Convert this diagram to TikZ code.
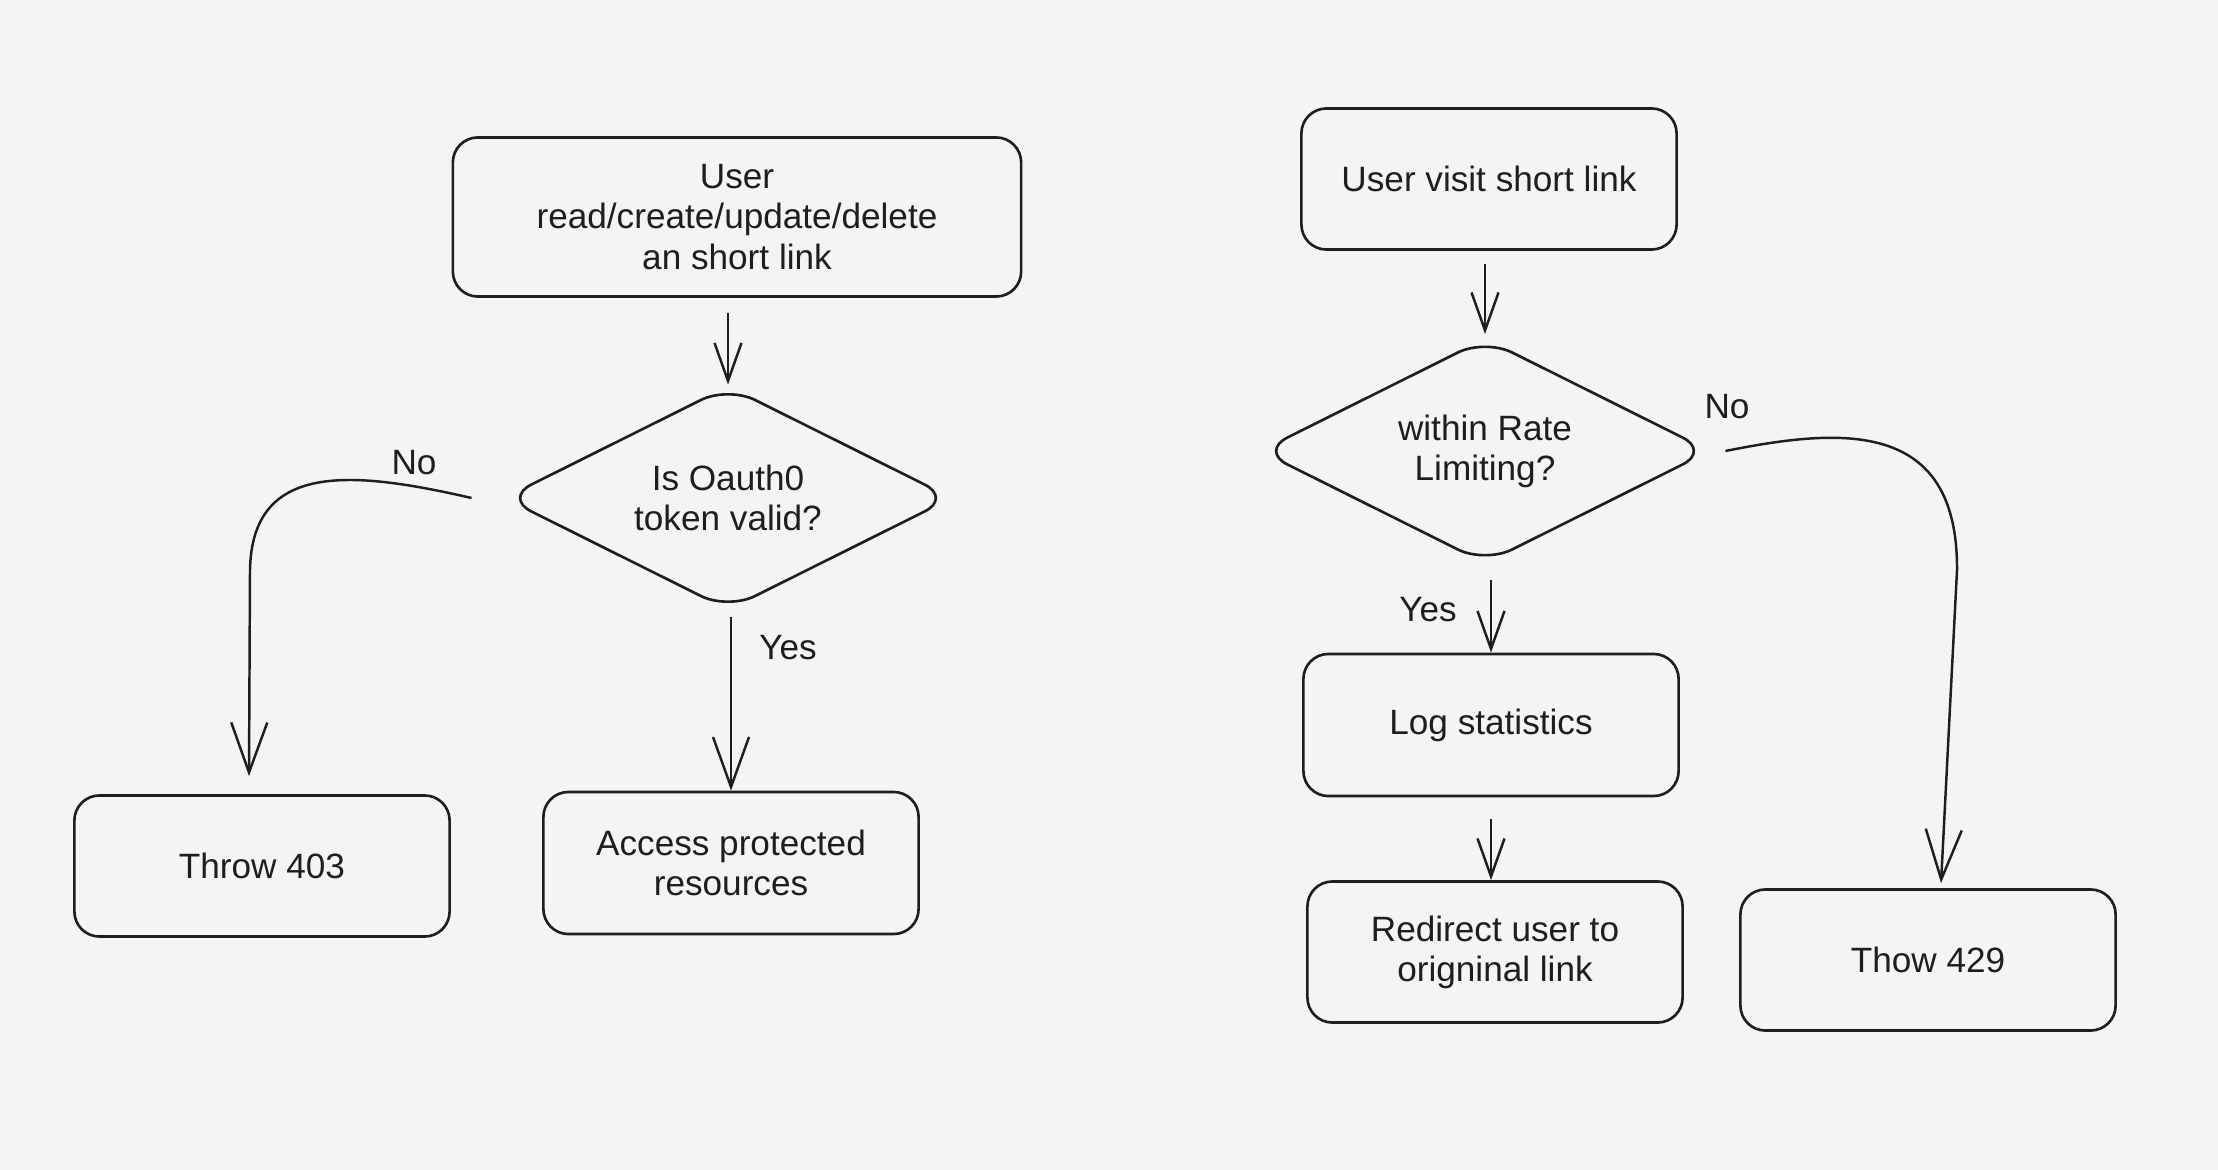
\documentclass[tikz,border=0pt]{standalone}
\usepackage{fontspec}
\setmainfont{Liberation Sans}
\usetikzlibrary{arrows.meta,shapes.geometric}
\definecolor{bg}{RGB}{243,244,246}
\definecolor{ink}{RGB}{30,30,30}
\begin{document}
\begin{tikzpicture}[x=0.01cm,y=-0.01cm,
  every node/.style={font=\fontsize{10pt}{11.4pt}\selectfont, text=ink},
  box/.style={draw=ink, line width=0.75pt, rounded corners=0.25cm, align=center, inner sep=0pt, minimum width=3.75cm, minimum height=1.41cm},
  dia/.style={draw=ink, line width=0.75pt, diamond, shape aspect=2, rounded corners=0.3cm, align=center, inner sep=0pt},
  conn/.style={draw=ink, line width=0.7pt},
  bigtip/.style={-{Straight Barb[length=5mm,width=3.6mm]}},
  smalltip/.style={-{Straight Barb[length=3.8mm,width=2.7mm]}}]
\fill[bg] (0,0) rectangle (2218,1170);
\useasboundingbox (0,0) rectangle (2218,1170);

% left flow
\node[box, minimum width=5.68cm, minimum height=1.59cm] (b1) at (737,217) {User\\read/create/update/delete\\an short link};
\node[dia, minimum width=4.48cm, minimum height=2.24cm] (d1) at (728,498) {Is Oauth0\\token valid?};
\node[box] (t403) at (262,866) {Throw 403};
\node[box, minimum height=1.42cm] (acc) at (731,863) {Access protected\\resources};
\node (no1) at (414,463) {No};
\node (yes1) at (788,648) {Yes};

\draw[conn, smalltip, shorten <=0.15cm] (b1.south -| d1.north) -- (d1.north);
\draw[conn, bigtip] ([xshift=-0.31cm]d1.west) .. controls (350,470) and (252,462) .. (250,570) -- ([xshift=-0.13cm, yshift=0.18cm]t403.north);
\draw[conn, bigtip, shorten <=0.06cm] (d1.south -| acc.north) -- (acc.north);

% right flow
\node[box] (uv) at (1489,179) {User visit short link};
\node[dia, minimum width=4.5cm, minimum height=2.25cm] (d2) at (1485,451) {within Rate\\Limiting?};
\node[box, minimum height=1.42cm] (log) at (1491,725) {Log statistics};
\node[box] (red) at (1495,952) {Redirect user to\\origninal link};
\node[box] (t429) at (1928,960) {Thow 429};
\node (no2) at (1727,407) {No};
\node (yes2) at (1428,610) {Yes};

\draw[conn, smalltip, shorten <=0.13cm, shorten >=0.03cm] (uv.south -| d2.north) -- (d2.north);
\draw[conn, smalltip, shorten <=0.15cm] (d2.south -| log.north) -- (log.north);
\draw[conn, smalltip, shorten <=0.22cm] (log.south) -- (log.south |- red.north);
\draw[conn, bigtip] ([xshift=0.14cm]d2.east) .. controls (1840,428) and (1958,418) .. (1957,570) -- ([xshift=0.13cm, yshift=0.05cm]t429.north);
\end{tikzpicture}
\end{document}
